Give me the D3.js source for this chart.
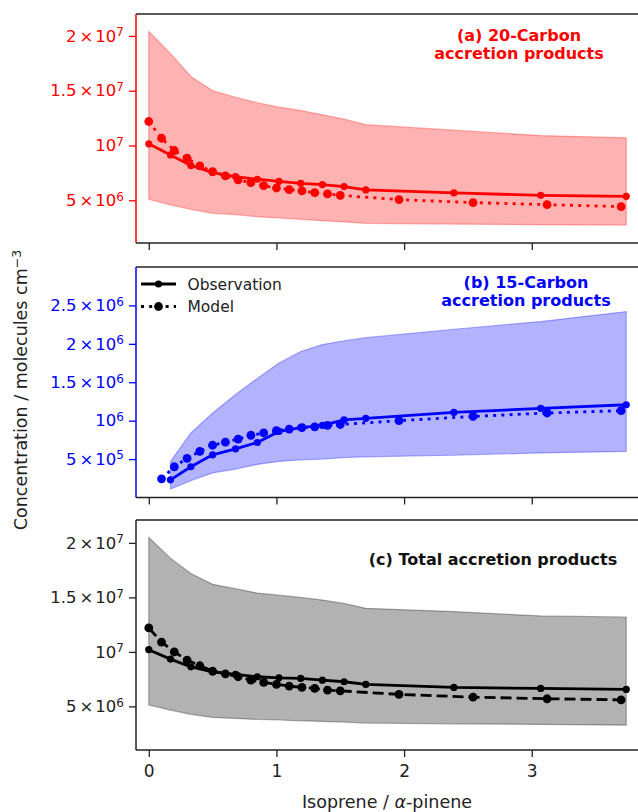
<!DOCTYPE html>
<html>
<head>
<meta charset="utf-8">
<script src="https://cdn.jsdelivr.net/npm/d3@7"></script>
<style>
  body { margin: 0; background: #fff; }
  text { font-family: "DejaVu Sans", sans-serif; }
</style>
</head>
<body>
<svg id="chart"></svg>
<script>
// isoprene / alpha-pinene ratios
var obsX = [0, 0.17, 0.33, 0.5, 0.68, 0.85, 1.02, 1.19, 1.36, 1.53, 1.70, 2.39, 3.07, 3.74];
var modelX = [0, 0.1, 0.2, 0.3, 0.4, 0.5, 0.6, 0.7, 0.8, 0.9, 1.0, 1.1, 1.2, 1.3, 1.4, 1.5, 1.96, 2.54, 3.12, 3.70];

// (a) 20-carbon
var c20Obs = [10.15e6, 9.14e6, 8.17e6, 7.53e6, 7.16e6, 6.92e6, 6.73e6, 6.55e6, 6.43e6, 6.25e6, 5.94e6, 5.67e6, 5.45e6, 5.36e6];
var c20Model = [12.19e6, 10.66e6, 9.54e6, 8.84e6, 8.14e6, 7.62e6, 7.22e6, 6.86e6, 6.61e6, 6.34e6, 6.12e6, 5.97e6, 5.85e6, 5.70e6, 5.58e6, 5.45e6, 5.06e6, 4.79e6, 4.60e6, 4.42e6];
var c20Low = [5.09e6, 4.57e6, 4.17e6, 3.81e6, 3.69e6, 3.5e6, 3.38e6, 3.26e6, 3.14e6, 3.02e6, 2.9e6, 2.83e6, 2.77e6, 2.74e6];
var c20High = [20.4e6, 18.4e6, 16.3e6, 15.0e6, 14.4e6, 13.9e6, 13.5e6, 13.2e6, 12.8e6, 12.4e6, 11.9e6, 11.4e6, 10.9e6, 10.7e6];

// (b) 15-carbon (nothing at ratio 0)
var c15Obs = [null, 0.23e6, 0.40e6, 0.556e6, 0.634e6, 0.716e6, 0.86e6, 0.91e6, 0.94e6, 1.01e6, 1.03e6, 1.107e6, 1.16e6, 1.207e6];
var c15Model = [null, 0.243e6, 0.40e6, 0.51e6, 0.60e6, 0.68e6, 0.72e6, 0.76e6, 0.81e6, 0.84e6, 0.87e6, 0.89e6, 0.91e6, 0.92e6, 0.94e6, 0.95e6, 1.0e6, 1.055e6, 1.10e6, 1.13e6];
var c15Low = [null, 0.11e6, 0.22e6, 0.32e6, 0.37e6, 0.43e6, 0.47e6, 0.49e6, 0.50e6, 0.52e6, 0.53e6, 0.55e6, 0.58e6, 0.60e6];
var c15High = [null, 0.47e6, 0.84e6, 1.10e6, 1.34e6, 1.55e6, 1.75e6, 1.90e6, 1.99e6, 2.04e6, 2.08e6, 2.19e6, 2.29e6, 2.42e6];

// (c) total
var totObs = [10.2e6, 9.34e6, 8.63e6, 8.17e6, 7.93e6, 7.72e6, 7.62e6, 7.57e6, 7.41e6, 7.26e6, 7.02e6, 6.74e6, 6.65e6, 6.56e6];
var totModel = [12.2e6, 10.9e6, 10.0e6, 9.25e6, 8.73e6, 8.24e6, 7.99e6, 7.72e6, 7.41e6, 7.2e6, 7.02e6, 6.86e6, 6.74e6, 6.65e6, 6.5e6, 6.43e6, 6.1e6, 5.85e6, 5.7e6, 5.6e6];
var totLow = [5.12e6, 4.66e6, 4.27e6, 3.99e6, 3.9e6, 3.8e6, 3.75e6, 3.68e6, 3.62e6, 3.56e6, 3.47e6, 3.4e6, 3.35e6, 3.28e6];
var totHigh = [20.5e6, 18.6e6, 17.2e6, 16.2e6, 15.8e6, 15.4e6, 15.2e6, 15.0e6, 14.75e6, 14.45e6, 14.0e6, 13.7e6, 13.3e6, 13.2e6];

var xTicks = [0, 1, 2, 3];
var yTicksBig = [5e6, 1e7, 1.5e7, 2e7];
var yTicksSmall = [5e5, 1e6, 1.5e6, 2e6, 2.5e6];
var titles = [["(a) 20-Carbon", "accretion products"], ["(b) 15-Carbon", "accretion products"], ["(c) Total accretion products"]];
var legendLabels = ["Observation", "Model"];

var W = 638, H = 812;
var left = 136, right = 639;
var svg = d3.select("#chart").attr("width", W).attr("height", H);

var x = d3.scaleLinear().domain([-0.1, 3.84]).range([left, right]);

var panels = [
  { top: 14, bottom: 243, dom: [1.1e6, 2.2e7], ticks: yTicksBig, color: "#ff0000", tick: "#ff0000",
    obs: c20Obs, model: c20Model, low: c20Low, high: c20High, dash: "3,5.2", title: titles[0], tx: 519, ty: 41 },
  { top: 267, bottom: 497.5, dom: [0, 3.0e6], ticks: yTicksSmall, color: "#0000ff", tick: "#0000ff",
    obs: c15Obs, model: c15Model, low: c15Low, high: c15High, dash: "3,5.2", title: titles[1], tx: 526, ty: 288 },
  { top: 520, bottom: 750, dom: [1e6, 2.21e7], ticks: yTicksBig, color: "#000000", tick: "#222",
    obs: totObs, model: totModel, low: totLow, high: totHigh, dash: "11,5", title: titles[2], tx: 493, ty: 565 }
];

// matplotlib-style "1.5 × 10^7" labels
function supLabel(sel, v) {
  var e = Math.floor(Math.log10(v) + 1e-9);
  var m = Math.round(v / Math.pow(10, e) * 10) / 10;
  sel.text(null);
  if (m !== 1) {
    sel.append("tspan").text(m);
    sel.append("tspan").attr("dx", 3).text("\u00d7");
    sel.append("tspan").attr("dx", 2).text("10");
  } else {
    sel.append("tspan").text("10");
  }
  sel.append("tspan").attr("dy", "-0.45em").attr("font-size", "12px").text(e);
}

panels.forEach(function (p, pi) {
  var y = d3.scaleLinear().domain(p.dom).range([p.bottom, p.top]);
  var g = svg.append("g");

  var band = obsX.map(function (v, i) { return [v, p.low[i], p.high[i]]; });
  var area = d3.area()
    .defined(function (d) { return d[1] != null; })
    .x(function (d) { return x(d[0]); })
    .y0(function (d) { return y(d[1]); })
    .y1(function (d) { return y(d[2]); });
  g.append("path").datum(band).attr("d", area)
    .attr("fill", p.color).attr("fill-opacity", 0.3)
    .attr("stroke", p.color).attr("stroke-opacity", 0.3).attr("stroke-width", 1.2);

  var line = d3.line()
    .x(function (d) { return x(d[0]); })
    .y(function (d) { return y(d[1]); });

  var obs = obsX.map(function (v, i) { return [v, p.obs[i]]; }).filter(function (d) { return d[1] != null; });
  var mod = modelX.map(function (v, i) { return [v, p.model[i]]; }).filter(function (d) { return d[1] != null; });

  g.append("path").datum(obs).attr("d", line).attr("fill", "none")
    .attr("stroke", p.color).attr("stroke-width", 2.8).attr("stroke-linejoin", "round");
  g.append("path").datum(mod).attr("d", line).attr("fill", "none")
    .attr("stroke", p.color).attr("stroke-width", 2.8).attr("stroke-dasharray", p.dash);

  g.selectAll(".mo").data(mod).enter().append("circle")
    .attr("cx", function (d) { return x(d[0]); }).attr("cy", function (d) { return y(d[1]); })
    .attr("r", 4.4).attr("fill", p.color);
  g.selectAll(".ob").data(obs).enter().append("circle")
    .attr("cx", function (d) { return x(d[0]); }).attr("cy", function (d) { return y(d[1]); })
    .attr("r", 3.6).attr("fill", p.color);

  // y axis
  var ya = g.append("g").attr("transform", "translate(" + left + ",0)")
    .call(d3.axisLeft(y).tickValues(p.ticks).tickSize(7).tickSizeOuter(0).tickPadding(5));
  ya.select(".domain").remove();
  ya.selectAll("line").attr("stroke", p.tick).attr("stroke-width", 1.3);
  ya.selectAll("text").attr("fill", p.tick).attr("font-size", "16.5px")
    .each(function (v) { supLabel(d3.select(this), v); });

  // x axis
  var xa = g.append("g").attr("transform", "translate(0," + p.bottom + ")")
    .call(d3.axisBottom(x).tickValues(xTicks).tickFormat(d3.format("d"))
      .tickSize(7).tickSizeOuter(0).tickPadding(8));
  xa.select(".domain").remove();
  xa.selectAll("line").attr("stroke", "#222").attr("stroke-width", 1.3);
  xa.selectAll("text").attr("fill", "#222").attr("font-size", "17px");
  if (pi < 2) xa.selectAll("text").remove();

  // spines
  g.append("line").attr("x1", left).attr("x2", right).attr("y1", p.top).attr("y2", p.top)
    .attr("stroke", "#222").attr("stroke-width", 1.5);
  g.append("line").attr("x1", left).attr("x2", right).attr("y1", p.bottom).attr("y2", p.bottom)
    .attr("stroke", "#222").attr("stroke-width", 1.5);
  g.append("line").attr("x1", left).attr("x2", left).attr("y1", p.top).attr("y2", p.bottom)
    .attr("stroke", pi < 2 ? p.color : "#222").attr("stroke-width", 1.5);

  // panel title
  var t = g.append("text").attr("x", p.tx).attr("y", p.ty).attr("text-anchor", "middle")
    .attr("font-size", "16px").attr("font-weight", "bold").attr("fill", pi < 2 ? p.color : "#111");
  p.title.forEach(function (s, i) {
    t.append("tspan").attr("x", p.tx).attr("dy", i ? "1.1em" : 0).text(s);
  });

  // legend sits in panel b
  if (pi === 1) {
    var lg = g.append("g");
    [0, 1].forEach(function (k) {
      var ly = 284 + k * 22.5;
      lg.append("line").attr("x1", 141).attr("x2", 176).attr("y1", ly).attr("y2", ly)
        .attr("stroke", "#000").attr("stroke-width", 2.8).attr("stroke-dasharray", k ? "3,5.2" : null);
      lg.append("circle").attr("cx", 158.5).attr("cy", ly).attr("r", k ? 4.4 : 3.6).attr("fill", "#000");
      lg.append("text").attr("x", 187.5).attr("y", ly).attr("dy", "0.36em")
        .attr("font-size", "15.5px").attr("fill", "#222").text(legendLabels[k]);
    });
  }
});

var xl = svg.append("text").attr("x", 387).attr("y", 808).attr("text-anchor", "middle")
  .attr("font-size", "17.5px").attr("fill", "#222");
xl.append("tspan").text("Isoprene / ");
xl.append("tspan").attr("font-style", "italic").text("\u03b1");
xl.append("tspan").text("-pinene");

var yl = svg.append("text").attr("transform", "translate(27,390) rotate(-90)")
  .attr("text-anchor", "middle").attr("font-size", "17.5px").attr("fill", "#222");
yl.append("tspan").text("Concentration / molecules cm");
yl.append("tspan").attr("dy", "-0.45em").attr("font-size", "12.5px").text("\u22123");
</script>
</body>
</html>
